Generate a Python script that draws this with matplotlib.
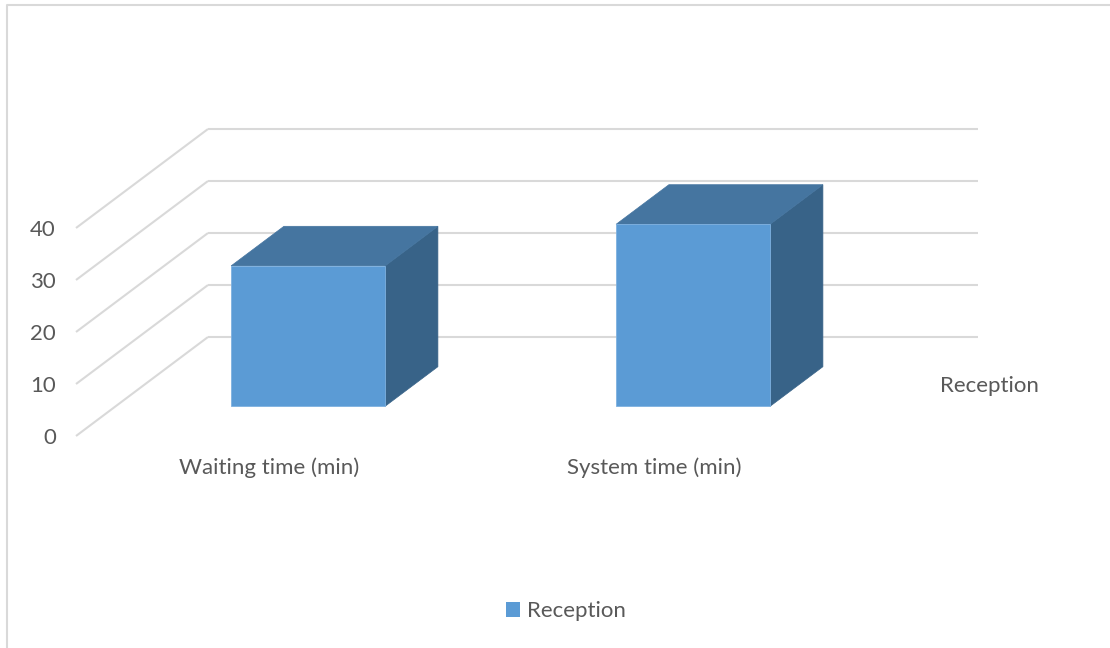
import matplotlib.pyplot as plt
from matplotlib.patches import Polygon, Patch
from matplotlib.lines import Line2D

categories = ["Waiting time (min)", "System time (min)"]
values = [27, 35]
series_name = "Reception"
y_ticks = [0, 10, 20, 30, 40]

# oblique projection of the 3-D box (depth 0 = front, 1 = back wall)
DX = 132 / 385
DY = 99 / 5.2
BAR_W = 0.4
D0, D1 = 0.3, 0.7

FRONT = "#5B9BD5"
TOP = "#4575A0"
SIDE = "#386388"
GRID = "#D9D9D9"
TEXT = "#595959"
FONT = "Lato"
FS = 16


def proj(x, v, d):
    return x + d * DX, v + d * DY


W, H = 1110, 648
fig = plt.figure(figsize=(W / 100, H / 100), dpi=100)
ax = fig.add_axes([0, 0, 1, 1])
ax.set_xlim(-76 / 385, (W - 76) / 385)
ax.set_ylim(-(H - 436) / 5.2, 436 / 5.2)
ax.axis("off")

n = len(categories)

# gridlines: back wall + side wall
for t in y_ticks:
    xa, ya = proj(0, t, 1)
    xb, yb = proj(n, t, 1)
    ax.plot([xa, xb], [ya, yb], color=GRID, lw=1.5, zorder=1, solid_capstyle="butt")
    xf, yf = proj(0, t, 0)
    ax.plot([xf, xa], [yf, ya], color=GRID, lw=1.5, zorder=1, solid_capstyle="butt")
    ax.annotate(str(t), xy=(xf, yf), xytext=(-20, -2), textcoords="offset pixels",
                ha="right", va="center", color=TEXT, fontsize=FS, family=FONT)

# bars
for i, v in enumerate(values):
    x0 = i + 0.5 - BAR_W / 2
    x1 = i + 0.5 + BAR_W / 2
    front = [proj(x0, 0, D0), proj(x1, 0, D0), proj(x1, v, D0), proj(x0, v, D0)]
    top = [proj(x0, v, D0), proj(x1, v, D0), proj(x1, v, D1), proj(x0, v, D1)]
    side = [proj(x1, 0, D0), proj(x1, 0, D1), proj(x1, v, D1), proj(x1, v, D0)]
    ax.add_patch(Polygon(side, closed=True, fc=SIDE, ec=SIDE, lw=0.5, zorder=3))
    ax.add_patch(Polygon(top, closed=True, fc=TOP, ec=TOP, lw=0.5, zorder=3))
    ax.add_patch(Polygon(front, closed=True, fc=FRONT, ec="#7EB1E0", lw=0.6, zorder=4))

# category labels
for i, c in enumerate(categories):
    ax.annotate(c, xy=proj(i + 0.5, 0, 0), xytext=(1, -32), textcoords="offset pixels",
                ha="center", va="center", color=TEXT, fontsize=FS, family=FONT)

# depth (series) axis label
ax.annotate(series_name, xy=proj(n, 0, 0.5), xytext=(28, 0), textcoords="offset pixels",
            ha="left", va="center", color=TEXT, fontsize=FS, family=FONT)

# legend
leg = fig.legend(handles=[Patch(facecolor=FRONT, edgecolor="none", label=series_name)],
                 loc="center", bbox_to_anchor=(0.5 + 11 / W, 1 - 611 / H), frameon=False,
                 handlelength=0.65, handleheight=0.65, handletextpad=0.3,
                 prop={"family": FONT, "size": FS})
for t in leg.get_texts():
    t.set_color(TEXT)

# chart area frame
fig.add_artist(Line2D([7 / W, 7 / W, 1.0], [0.0, 1 - 4.5 / H, 1 - 4.5 / H],
                      transform=fig.transFigure, color=GRID, lw=1.5))

fig.savefig("out.png", dpi=100)
plt.close(fig)
